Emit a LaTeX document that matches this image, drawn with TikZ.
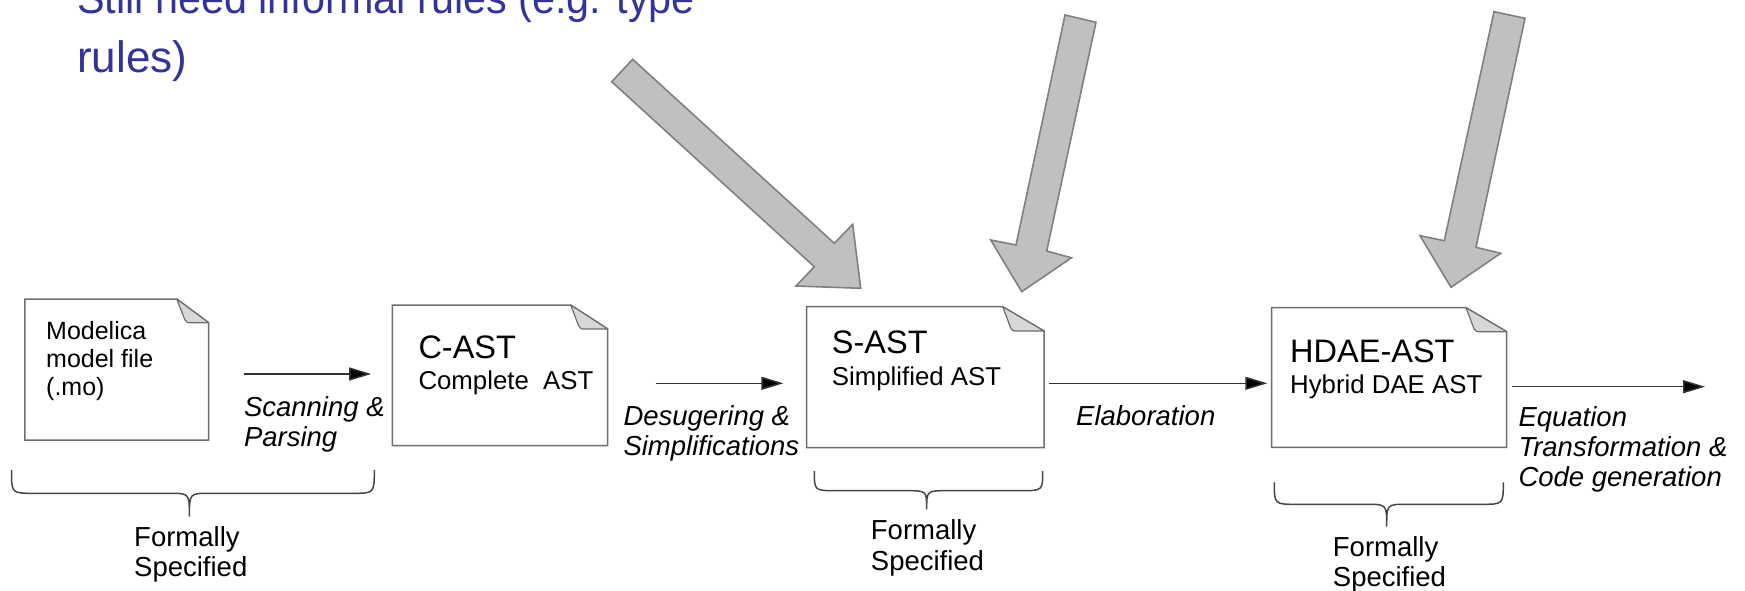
\documentclass[tikz,border=0pt]{standalone}
\usepackage{fontspec}
\setmainfont{Liberation Sans}
\usetikzlibrary{arrows.meta,calc}
\definecolor{titleblue}{RGB}{51,51,153}
\definecolor{boxline}{RGB}{110,110,110}
\definecolor{flapfill}{RGB}{215,215,215}
\definecolor{bigfill}{RGB}{192,192,192}
\definecolor{bigline}{RGB}{128,128,128}
\definecolor{flowline}{RGB}{50,50,50}
\definecolor{bracecol}{RGB}{70,70,70}
\tikzset{
  boxstyle/.style={draw=boxline, line width=1.5pt, fill=white, line join=miter},
  flapstyle/.style={draw=boxline, line width=1.2pt, fill=flapfill, line join=round},
  bigarrow/.style={draw=bigline, line width=1.6pt, fill=bigfill, line join=miter},
  flow/.style={draw=flowline, line width=1.5pt, -{Triangle[length=22pt,width=13pt,fill=black]}},
  bracestyle/.style={draw=bracecol, line width=1.5pt},
  txt/.style={anchor=base west, inner sep=0pt, text=black},
  title/.style={anchor=base west, inner sep=0pt, text=titleblue, font=\fontsize{44}{50}\selectfont},
  boxtext/.style={txt, font=\fontsize{25}{28}\selectfont},
  bigtitle/.style={txt, font=\fontsize{32.5}{36}\selectfont},
  subtitle/.style={txt, font=\fontsize{25.8}{30}\selectfont},
  steplabel/.style={txt, font=\fontsize{27.5}{30}\selectfont\itshape},
  formal/.style={txt, font=\fontsize{27.5}{30}\selectfont},
}
% name, L, T, R, B, fold x, fold y
\newcommand\docbox[7]{%
  \draw[boxstyle] (#2,#3) -- (#6,#3) -- (#4,#7) -- (#4,#5) -- (#2,#5) -- cycle;
  \draw[flapstyle] (#6,#3) -- (#6+8,#7-3) .. controls (#6+10,#7) .. (#6+15,#7) -- (#4,#7) -- cycle;
  \coordinate (#1) at ({(#2+#4)/2},{(#3+#5)/2});
}
% x1, x2, ytip, ymid, xpoint, ypoint
\newcommand\fbrace[6]{%
  \draw[bracestyle] (#1,#3) .. controls (#1,#4) .. (#1+22,#4) -- (#5-20,#4)
    .. controls (#5,#4) .. (#5,#6) .. controls (#5,#4) .. (#5+20,#4)
    -- (#2-22,#4) .. controls (#2,#4) .. (#2,#3);
}
\begin{document}
\begin{tikzpicture}[x=1pt,y=-1pt]
\useasboundingbox (0,0) rectangle (1745,591);
\clip (0,0) rectangle (1745,591);

% top text
\node[title] (t1) at (77,14) {\scalebox{0.94}[1]{Still need informal rules (e.g. type}};
\node[title] (t2) at (77,73) {rules)};

% big gray arrows
\draw[bigarrow] (632.7,59.3) -- (834.3,243.3) -- (852.7,224.3) -- (860.7,288.3)
  -- (796,286) -- (814.3,266.7) -- (611.7,81.7) -- cycle;
\draw[bigarrow] (1065,15) -- (1096,22.3) -- (1046.7,251) -- (1071.5,257.8)
  -- (1021.7,291.7) -- (990.7,240) -- (1016,245) -- cycle;
\draw[bigarrow] (1494,11.7) -- (1525,18.3) -- (1476,247.3) -- (1500.7,253.3)
  -- (1451,287.3) -- (1420,235.7) -- (1444.3,240.7) -- cycle;

% document boxes
\docbox{b1}{24.9}{299}{208.6}{440}{176.8}{322.7}
\docbox{b2}{392.3}{305}{607.7}{445.7}{570.7}{329}
\docbox{b3}{806.7}{306.7}{1044}{447.7}{1002.7}{331}
\docbox{b4}{1271.7}{307.7}{1506.7}{447.3}{1466}{331.7}

\node[boxtext] (b1l1) at (46,339.3) {Modelica};
\node[boxtext] (b1l2) at (46,367.3) {model file};
\node[boxtext] (b1l3) at (46,395.3) {(.mo)};

\node[bigtitle] (b2t) at (418.3,358.3) {C-AST};
\node[subtitle] (b2s) at (418.3,389) {Complete\ \ AST};

\node[bigtitle] (b3t) at (831.7,353.3) {S-AST};
\node[subtitle] (b3s) at (831.7,385) {Simplified AST};

\node[bigtitle] (b4t) at (1290,362.7) {HDAE-AST};
\node[subtitle] (b4s) at (1290,393.3) {Hybrid DAE AST};

% flow arrows
\coordinate (a1s) at (243.8,374);
\coordinate (a1e) at (371.2,374);
\coordinate (a2s) at (655.7,383.3);
\coordinate (a2e) at (783.3,383.3);
\coordinate (a3s) at (1049.3,383.3);
\coordinate (a3e) at (1267.3,383.3);
\coordinate (a4s) at (1511.7,386.7);
\coordinate (a4e) at (1705,386.7);
\draw[flow] (a1s) -- (a1e);
\draw[flow] (a2s) -- (a2e);
\draw[flow] (a3s) -- (a3e);
\draw[flow] (a4s) -- (a4e);

\node[steplabel] (l1a) at (243.8,416.7) {Scanning \&};
\node[steplabel] (l1b) at (243.8,446.7) {Parsing};
\node[steplabel] (l2a) at (623.3,425) {Desugering \&};
\node[steplabel] (l2b) at (623.3,455) {Simplifications};
\node[steplabel] (l3a) at (1076,425) {Elaboration};
\node[steplabel] (l4a) at (1518.3,426) {Equation};
\node[steplabel] (l4b) at (1518.3,456) {Transformation \&};
\node[steplabel] (l4c) at (1518.3,486.7) {Code generation};

% braces
\fbrace{11.5}{374.3}{470}{493.3}{189.4}{516.7}
\fbrace{814.3}{1042.7}{471}{490.7}{926.7}{509.3}
\fbrace{1274.3}{1503.3}{482.3}{504.3}{1386.7}{526.7}

\node[formal] (f1a) at (134,546.7) {Formally};
\node[formal] (f1b) at (134,576.7) {Specified};
\node[formal] (f2a) at (870.7,539.3) {Formally};
\node[formal] (f2b) at (870.7,570) {Specified};
\node[formal] (f3a) at (1332.7,556.7) {Formally};
\node[formal] (f3b) at (1332.7,586.7) {Specified};
\end{tikzpicture}
\end{document}
